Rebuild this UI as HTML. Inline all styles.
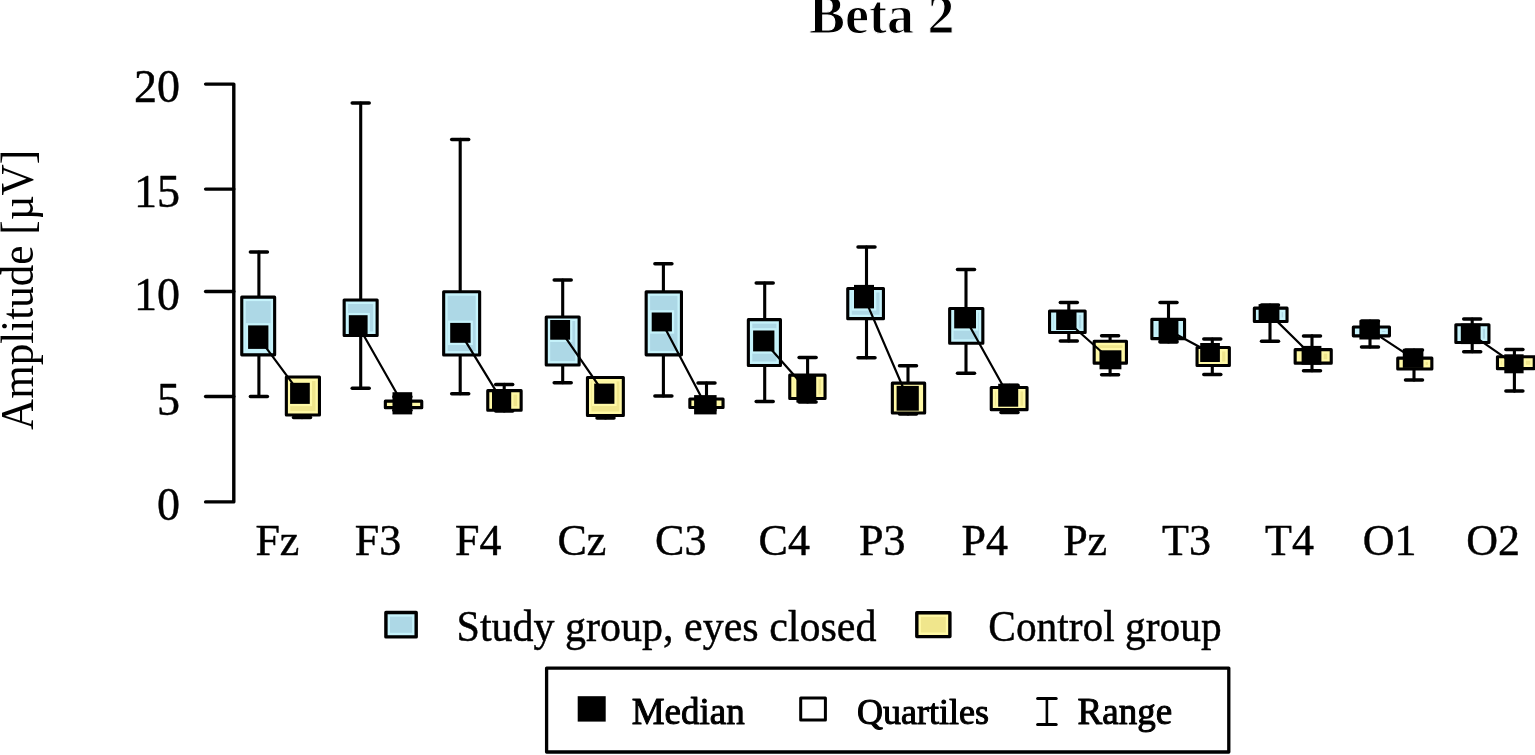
<!DOCTYPE html>
<html><head><meta charset="utf-8"><title>Beta 2</title>
<style>
html,body{margin:0;padding:0;background:#fff;}
body{width:1535px;height:755px;overflow:hidden;}
svg{display:block;}
text{font-family:"Liberation Serif","Times New Roman",serif;fill:#000;}
.cap{stroke-width:3.5;}
.r{stroke:#000;stroke-width:0.45;stroke-linejoin:round;}
.h{stroke:#000;stroke-width:1.0;stroke-linejoin:round;}
</style></head><body>
<svg width="1535" height="755" viewBox="0 0 1535 755">
<rect width="1535" height="755" fill="#fff"/>
<text x="809" y="32.8" font-size="54" font-weight="bold" stroke="#fff" stroke-width="1.1">Beta 2</text>
<text transform="translate(33,290) rotate(-90)" font-size="45.5" text-anchor="middle" textLength="280" lengthAdjust="spacingAndGlyphs">Amplitude [µV]</text>
<g stroke="#000" stroke-width="3.4" fill="none" stroke-linecap="round" stroke-linejoin="round">
<path d="M205.6,84.1 H233.8 V501.9 H205.6"/>
<line x1="205.6" y1="189.1" x2="233.8" y2="189.1"/>
<line x1="205.6" y1="291.5" x2="233.8" y2="291.5"/>
<line x1="205.6" y1="396.5" x2="233.8" y2="396.5"/>
</g>
<g class="r" font-size="46" text-anchor="end">
<text x="180" y="102.1">20</text>
<text x="180" y="207.1">15</text>
<text x="180" y="309.5">10</text>
<text x="180" y="414.5">5</text>
<text x="180" y="519.9">0</text>
</g>
<defs>
<clipPath id="c0"><rect x="243.3" y="298.7" width="29.8" height="54.6"/></clipPath>
<clipPath id="c1"><rect x="345.7" y="301.6" width="29.9" height="32.3"/></clipPath>
<clipPath id="c2"><rect x="445.2" y="293.3" width="32.9" height="60.2"/></clipPath>
<clipPath id="c3"><rect x="547.8" y="318.6" width="29.8" height="44.9"/></clipPath>
<clipPath id="c4"><rect x="647.7" y="293.4" width="32.2" height="59.9"/></clipPath>
<clipPath id="c5"><rect x="749.9" y="321.2" width="29" height="42.7"/></clipPath>
<clipPath id="c6"><rect x="849.3" y="290.1" width="32.6" height="27"/></clipPath>
<clipPath id="c7"><rect x="951.2" y="310.1" width="30.1" height="31.6"/></clipPath>
<clipPath id="c8"><rect x="1051.1" y="312.6" width="32.5" height="18.3"/></clipPath>
<clipPath id="c9"><rect x="1153.4" y="320.9" width="29.6" height="16.2"/></clipPath>
<clipPath id="c10"><rect x="1255.9" y="309.7" width="29.6" height="10.2"/></clipPath>
<clipPath id="c11"><rect x="1354.9" y="328.5" width="33" height="5.8"/></clipPath>
<clipPath id="c12"><rect x="1457.4" y="326.3" width="30" height="14.7"/></clipPath>
<clipPath id="c13"><rect x="287.9" y="378.6" width="30" height="34.9"/></clipPath>
<clipPath id="c14"><rect x="386.9" y="402.7" width="33.3" height="3.4"/></clipPath>
<clipPath id="c15"><rect x="489.3" y="392.2" width="30.3" height="16.5"/></clipPath>
<clipPath id="c16"><rect x="589" y="379" width="32.8" height="34.9"/></clipPath>
<clipPath id="c17"><rect x="691.4" y="400.6" width="30.1" height="5.4"/></clipPath>
<clipPath id="c18"><rect x="791.3" y="376.7" width="32.2" height="20.2"/></clipPath>
<clipPath id="c19"><rect x="893.9" y="384.7" width="29.2" height="26.8"/></clipPath>
<clipPath id="c20"><rect x="992.8" y="389" width="32.7" height="19.1"/></clipPath>
<clipPath id="c21"><rect x="1095.7" y="342.8" width="29.2" height="18.8"/></clipPath>
<clipPath id="c22"><rect x="1198.6" y="349" width="29.2" height="15"/></clipPath>
<clipPath id="c23"><rect x="1296.7" y="351.2" width="33" height="10.4"/></clipPath>
<clipPath id="c24"><rect x="1399.3" y="359.7" width="31" height="7.8"/></clipPath>
<clipPath id="c25"><rect x="1499" y="358.3" width="33.7" height="8.8"/></clipPath>
</defs>
<g stroke="#000" stroke-width="3.1" fill="none" stroke-linecap="round">
<line x1="258.9" y1="252.1" x2="258.9" y2="396.5"/>
<line class="cap" x1="250.4" y1="252.1" x2="267.4" y2="252.1"/>
<line class="cap" x1="250.4" y1="396.5" x2="267.4" y2="396.5"/>
<line x1="360.7" y1="103.1" x2="360.7" y2="388.2"/>
<line class="cap" x1="352.2" y1="103.1" x2="369.2" y2="103.1"/>
<line class="cap" x1="352.2" y1="388.2" x2="369.2" y2="388.2"/>
<line x1="460.2" y1="139.4" x2="460.2" y2="393.7"/>
<line class="cap" x1="451.7" y1="139.4" x2="468.7" y2="139.4"/>
<line class="cap" x1="451.7" y1="393.7" x2="468.7" y2="393.7"/>
<line x1="562.7" y1="280.1" x2="562.7" y2="382.8"/>
<line class="cap" x1="554.2" y1="280.1" x2="571.2" y2="280.1"/>
<line class="cap" x1="554.2" y1="382.8" x2="571.2" y2="382.8"/>
<line x1="663.4" y1="263.8" x2="663.4" y2="396"/>
<line class="cap" x1="654.9" y1="263.8" x2="671.9" y2="263.8"/>
<line class="cap" x1="654.9" y1="396" x2="671.9" y2="396"/>
<line x1="764.7" y1="283.1" x2="764.7" y2="401.4"/>
<line class="cap" x1="756.2" y1="283.1" x2="773.2" y2="283.1"/>
<line class="cap" x1="756.2" y1="401.4" x2="773.2" y2="401.4"/>
<line x1="866.5" y1="247.1" x2="866.5" y2="357.8"/>
<line class="cap" x1="858" y1="247.1" x2="875" y2="247.1"/>
<line class="cap" x1="858" y1="357.8" x2="875" y2="357.8"/>
<line x1="966" y1="269.6" x2="966" y2="373.3"/>
<line class="cap" x1="957.5" y1="269.6" x2="974.5" y2="269.6"/>
<line class="cap" x1="957.5" y1="373.3" x2="974.5" y2="373.3"/>
<line x1="1068.8" y1="302.6" x2="1068.8" y2="340.9"/>
<line class="cap" x1="1060.3" y1="302.6" x2="1077.3" y2="302.6"/>
<line class="cap" x1="1060.3" y1="340.9" x2="1077.3" y2="340.9"/>
<line x1="1168.5" y1="302.6" x2="1168.5" y2="342"/>
<line class="cap" x1="1160" y1="302.6" x2="1177" y2="302.6"/>
<line class="cap" x1="1160" y1="342" x2="1177" y2="342"/>
<line x1="1270" y1="305" x2="1270" y2="341.2"/>
<line class="cap" x1="1261.5" y1="305" x2="1278.5" y2="305"/>
<line class="cap" x1="1261.5" y1="341.2" x2="1278.5" y2="341.2"/>
<line x1="1370" y1="321" x2="1370" y2="346.9"/>
<line class="cap" x1="1361.5" y1="321" x2="1378.5" y2="321"/>
<line class="cap" x1="1361.5" y1="346.9" x2="1378.5" y2="346.9"/>
<line x1="1472.2" y1="319" x2="1472.2" y2="351.7"/>
<line class="cap" x1="1463.7" y1="319" x2="1480.7" y2="319"/>
<line class="cap" x1="1463.7" y1="351.7" x2="1480.7" y2="351.7"/>
<line x1="302" y1="385" x2="302" y2="417.6"/>
<line class="cap" x1="293.5" y1="385" x2="310.5" y2="385"/>
<line class="cap" x1="293.5" y1="417.6" x2="310.5" y2="417.6"/>
<line x1="402.4" y1="396.8" x2="402.4" y2="410.2"/>
<line class="cap" x1="393.9" y1="396.8" x2="410.9" y2="396.8"/>
<line class="cap" x1="393.9" y1="410.2" x2="410.9" y2="410.2"/>
<line x1="504.2" y1="384.4" x2="504.2" y2="411"/>
<line class="cap" x1="495.7" y1="384.4" x2="512.7" y2="384.4"/>
<line class="cap" x1="495.7" y1="411" x2="512.7" y2="411"/>
<line x1="605.5" y1="390" x2="605.5" y2="418"/>
<line class="cap" x1="597" y1="390" x2="614" y2="390"/>
<line class="cap" x1="597" y1="418" x2="614" y2="418"/>
<line x1="706.5" y1="383" x2="706.5" y2="410"/>
<line class="cap" x1="698" y1="383" x2="715" y2="383"/>
<line class="cap" x1="698" y1="410" x2="715" y2="410"/>
<line x1="807.6" y1="357.6" x2="807.6" y2="402"/>
<line class="cap" x1="799.1" y1="357.6" x2="816.1" y2="357.6"/>
<line class="cap" x1="799.1" y1="402" x2="816.1" y2="402"/>
<line x1="908" y1="365.8" x2="908" y2="414"/>
<line class="cap" x1="899.5" y1="365.8" x2="916.5" y2="365.8"/>
<line class="cap" x1="899.5" y1="414" x2="916.5" y2="414"/>
<line x1="1009.5" y1="385.2" x2="1009.5" y2="412.5"/>
<line class="cap" x1="1001" y1="385.2" x2="1018" y2="385.2"/>
<line class="cap" x1="1001" y1="412.5" x2="1018" y2="412.5"/>
<line x1="1110.1" y1="335.7" x2="1110.1" y2="374.8"/>
<line class="cap" x1="1101.6" y1="335.7" x2="1118.6" y2="335.7"/>
<line class="cap" x1="1101.6" y1="374.8" x2="1118.6" y2="374.8"/>
<line x1="1212.3" y1="339" x2="1212.3" y2="374.5"/>
<line class="cap" x1="1203.8" y1="339" x2="1220.8" y2="339"/>
<line class="cap" x1="1203.8" y1="374.5" x2="1220.8" y2="374.5"/>
<line x1="1312" y1="335.9" x2="1312" y2="370.8"/>
<line class="cap" x1="1303.5" y1="335.9" x2="1320.5" y2="335.9"/>
<line class="cap" x1="1303.5" y1="370.8" x2="1320.5" y2="370.8"/>
<line x1="1414" y1="350" x2="1414" y2="379.9"/>
<line class="cap" x1="1405.5" y1="350" x2="1422.5" y2="350"/>
<line class="cap" x1="1405.5" y1="379.9" x2="1422.5" y2="379.9"/>
<line x1="1514.4" y1="349.6" x2="1514.4" y2="391.1"/>
<line class="cap" x1="1505.9" y1="349.6" x2="1522.9" y2="349.6"/>
<line class="cap" x1="1505.9" y1="391.1" x2="1522.9" y2="391.1"/>
</g>
<rect x="241.75" y="297.15" width="32.9" height="57.7" fill="#ADD8E6"/>
<rect x="244.5" y="299.9" width="27.4" height="52.2" fill="none" stroke="#C6F3FB" stroke-width="2.4"/>
<rect clip-path="url(#c0)" x="248.1" y="325.4" width="20.3" height="23.5" fill="none" stroke="#C6F3FB" stroke-width="4.5"/>
<rect x="241.75" y="297.15" width="32.9" height="57.7" fill="none" stroke="#000" stroke-width="3.1" stroke-linejoin="round"/>
<rect x="344.15" y="300.05" width="33" height="35.4" fill="#ADD8E6"/>
<rect x="346.9" y="302.8" width="27.5" height="29.9" fill="none" stroke="#C6F3FB" stroke-width="2.4"/>
<rect clip-path="url(#c1)" x="348.8" y="315.2" width="18.8" height="21.1" fill="none" stroke="#C6F3FB" stroke-width="4.5"/>
<rect x="344.15" y="300.05" width="33" height="35.4" fill="none" stroke="#000" stroke-width="3.1" stroke-linejoin="round"/>
<rect x="443.65" y="291.75" width="36" height="63.3" fill="#ADD8E6"/>
<rect x="446.4" y="294.5" width="30.5" height="57.8" fill="none" stroke="#C6F3FB" stroke-width="2.4"/>
<rect clip-path="url(#c2)" x="450.2" y="322.9" width="20.4" height="19.9" fill="none" stroke="#C6F3FB" stroke-width="4.5"/>
<rect x="443.65" y="291.75" width="36" height="63.3" fill="none" stroke="#000" stroke-width="3.1" stroke-linejoin="round"/>
<rect x="546.25" y="317.05" width="32.9" height="48" fill="#ADD8E6"/>
<rect x="549" y="319.8" width="27.4" height="42.5" fill="none" stroke="#C6F3FB" stroke-width="2.4"/>
<rect clip-path="url(#c3)" x="550.2" y="320" width="19.9" height="19.7" fill="none" stroke="#C6F3FB" stroke-width="4.5"/>
<rect x="546.25" y="317.05" width="32.9" height="48" fill="none" stroke="#000" stroke-width="3.1" stroke-linejoin="round"/>
<rect x="646.15" y="291.85" width="35.3" height="63" fill="#ADD8E6"/>
<rect x="648.9" y="294.6" width="29.8" height="57.5" fill="none" stroke="#C6F3FB" stroke-width="2.4"/>
<rect clip-path="url(#c4)" x="651.7" y="312.5" width="20.2" height="18.9" fill="none" stroke="#C6F3FB" stroke-width="4.5"/>
<rect x="646.15" y="291.85" width="35.3" height="63" fill="none" stroke="#000" stroke-width="3.1" stroke-linejoin="round"/>
<rect x="748.35" y="319.65" width="32.1" height="45.8" fill="#ADD8E6"/>
<rect x="751.1" y="322.4" width="26.6" height="40.3" fill="none" stroke="#C6F3FB" stroke-width="2.4"/>
<rect clip-path="url(#c5)" x="753.1" y="330.5" width="21.3" height="20.9" fill="none" stroke="#C6F3FB" stroke-width="4.5"/>
<rect x="748.35" y="319.65" width="32.1" height="45.8" fill="none" stroke="#000" stroke-width="3.1" stroke-linejoin="round"/>
<rect x="847.75" y="288.55" width="35.7" height="30.1" fill="#ADD8E6"/>
<rect x="850.5" y="291.3" width="30.2" height="24.6" fill="none" stroke="#C6F3FB" stroke-width="2.4"/>
<rect clip-path="url(#c6)" x="854" y="284.9" width="20" height="23.5" fill="none" stroke="#C6F3FB" stroke-width="4.5"/>
<rect x="847.75" y="288.55" width="35.7" height="30.1" fill="none" stroke="#000" stroke-width="3.1" stroke-linejoin="round"/>
<rect x="949.65" y="308.55" width="33.2" height="34.7" fill="#ADD8E6"/>
<rect x="952.4" y="311.3" width="27.7" height="29.2" fill="none" stroke="#C6F3FB" stroke-width="2.4"/>
<rect clip-path="url(#c7)" x="954.2" y="307.6" width="21.8" height="20.8" fill="none" stroke="#C6F3FB" stroke-width="4.5"/>
<rect x="949.65" y="308.55" width="33.2" height="34.7" fill="none" stroke="#000" stroke-width="3.1" stroke-linejoin="round"/>
<rect x="1049.55" y="311.05" width="35.6" height="21.4" fill="#ADD8E6"/>
<rect x="1052.3" y="313.8" width="30.1" height="15.9" fill="none" stroke="#C6F3FB" stroke-width="2.4"/>
<rect clip-path="url(#c8)" x="1056.2" y="310.9" width="20.3" height="19.1" fill="none" stroke="#C6F3FB" stroke-width="4.5"/>
<rect x="1049.55" y="311.05" width="35.6" height="21.4" fill="none" stroke="#000" stroke-width="3.1" stroke-linejoin="round"/>
<rect x="1151.85" y="319.35" width="32.7" height="19.3" fill="#ADD8E6"/>
<rect x="1154.6" y="322.1" width="27.2" height="13.8" fill="none" stroke="#C6F3FB" stroke-width="2.4"/>
<rect clip-path="url(#c9)" x="1158.6" y="318.2" width="19.8" height="24.2" fill="none" stroke="#C6F3FB" stroke-width="4.5"/>
<rect x="1151.85" y="319.35" width="32.7" height="19.3" fill="none" stroke="#000" stroke-width="3.1" stroke-linejoin="round"/>
<rect x="1254.35" y="308.15" width="32.7" height="13.3" fill="#ADD8E6"/>
<rect x="1257.1" y="310.9" width="27.2" height="7.8" fill="none" stroke="#C6F3FB" stroke-width="2.4"/>
<rect clip-path="url(#c10)" x="1258.6" y="304.1" width="20.8" height="18.6" fill="none" stroke="#C6F3FB" stroke-width="4.5"/>
<rect x="1254.35" y="308.15" width="32.7" height="13.3" fill="none" stroke="#000" stroke-width="3.1" stroke-linejoin="round"/>
<rect x="1353.35" y="326.95" width="36.1" height="8.9" fill="#ADD8E6"/>
<rect x="1356.1" y="329.7" width="30.6" height="3.4" fill="none" stroke="#C6F3FB" stroke-width="2.4"/>
<rect clip-path="url(#c11)" x="1359.4" y="320.3" width="20.5" height="19.2" fill="none" stroke="#C6F3FB" stroke-width="4.5"/>
<rect x="1353.35" y="326.95" width="36.1" height="8.9" fill="none" stroke="#000" stroke-width="3.1" stroke-linejoin="round"/>
<rect x="1455.85" y="324.75" width="33.1" height="17.8" fill="#ADD8E6"/>
<rect x="1458.6" y="327.5" width="27.6" height="12.3" fill="none" stroke="#C6F3FB" stroke-width="2.4"/>
<rect clip-path="url(#c12)" x="1460.8" y="323.6" width="19.8" height="20.5" fill="none" stroke="#C6F3FB" stroke-width="4.5"/>
<rect x="1455.85" y="324.75" width="33.1" height="17.8" fill="none" stroke="#000" stroke-width="3.1" stroke-linejoin="round"/>
<rect x="286.35" y="377.05" width="33.1" height="38" fill="#F0E68C"/>
<rect x="289.1" y="379.8" width="27.6" height="32.5" fill="none" stroke="#FFF9A6" stroke-width="2.4"/>
<rect clip-path="url(#c13)" x="290.1" y="382.8" width="19.7" height="21.1" fill="none" stroke="#FFF9A6" stroke-width="4.5"/>
<rect x="286.35" y="377.05" width="33.1" height="38" fill="none" stroke="#000" stroke-width="3.1" stroke-linejoin="round"/>
<rect x="385.35" y="401.15" width="36.4" height="6.5" fill="#F0E68C"/>
<rect x="388.1" y="403.9" width="30.9" height="1" fill="none" stroke="#FFF9A6" stroke-width="2.4"/>
<rect clip-path="url(#c14)" x="392.5" y="392.2" width="19.7" height="22.2" fill="none" stroke="#FFF9A6" stroke-width="4.5"/>
<rect x="385.35" y="401.15" width="36.4" height="6.5" fill="none" stroke="#000" stroke-width="3.1" stroke-linejoin="round"/>
<rect x="487.75" y="390.65" width="33.4" height="19.6" fill="#F0E68C"/>
<rect x="490.5" y="393.4" width="27.9" height="14.1" fill="none" stroke="#FFF9A6" stroke-width="2.4"/>
<rect clip-path="url(#c15)" x="492" y="390.3" width="19.2" height="19.7" fill="none" stroke="#FFF9A6" stroke-width="4.5"/>
<rect x="487.75" y="390.65" width="33.4" height="19.6" fill="none" stroke="#000" stroke-width="3.1" stroke-linejoin="round"/>
<rect x="587.45" y="377.45" width="35.9" height="38" fill="#F0E68C"/>
<rect x="590.2" y="380.2" width="30.4" height="32.5" fill="none" stroke="#FFF9A6" stroke-width="2.4"/>
<rect clip-path="url(#c16)" x="594.2" y="383.6" width="20.2" height="20.2" fill="none" stroke="#FFF9A6" stroke-width="4.5"/>
<rect x="587.45" y="377.45" width="35.9" height="38" fill="none" stroke="#000" stroke-width="3.1" stroke-linejoin="round"/>
<rect x="689.85" y="399.05" width="33.2" height="8.5" fill="#F0E68C"/>
<rect x="692.6" y="401.8" width="27.7" height="3" fill="none" stroke="#FFF9A6" stroke-width="2.4"/>
<rect clip-path="url(#c17)" x="694.1" y="395.1" width="22.5" height="19.3" fill="none" stroke="#FFF9A6" stroke-width="4.5"/>
<rect x="689.85" y="399.05" width="33.2" height="8.5" fill="none" stroke="#000" stroke-width="3.1" stroke-linejoin="round"/>
<rect x="789.75" y="375.15" width="35.3" height="23.3" fill="#F0E68C"/>
<rect x="792.5" y="377.9" width="29.8" height="17.8" fill="none" stroke="#FFF9A6" stroke-width="2.4"/>
<rect clip-path="url(#c18)" x="796.4" y="375.3" width="19.8" height="27.2" fill="none" stroke="#FFF9A6" stroke-width="4.5"/>
<rect x="789.75" y="375.15" width="35.3" height="23.3" fill="none" stroke="#000" stroke-width="3.1" stroke-linejoin="round"/>
<rect x="892.35" y="383.15" width="32.3" height="29.9" fill="#F0E68C"/>
<rect x="895.1" y="385.9" width="26.8" height="24.4" fill="none" stroke="#FFF9A6" stroke-width="2.4"/>
<rect clip-path="url(#c19)" x="896.6" y="385.9" width="22.2" height="24.8" fill="none" stroke="#FFF9A6" stroke-width="4.5"/>
<rect x="892.35" y="383.15" width="32.3" height="29.9" fill="none" stroke="#000" stroke-width="3.1" stroke-linejoin="round"/>
<rect x="991.25" y="387.45" width="35.8" height="22.2" fill="#F0E68C"/>
<rect x="994" y="390.2" width="30.3" height="16.7" fill="none" stroke="#FFF9A6" stroke-width="2.4"/>
<rect clip-path="url(#c20)" x="998.2" y="383.8" width="20" height="22.9" fill="none" stroke="#FFF9A6" stroke-width="4.5"/>
<rect x="991.25" y="387.45" width="35.8" height="22.2" fill="none" stroke="#000" stroke-width="3.1" stroke-linejoin="round"/>
<rect x="1094.15" y="341.25" width="32.3" height="21.9" fill="#F0E68C"/>
<rect x="1096.9" y="344" width="26.8" height="16.4" fill="none" stroke="#FFF9A6" stroke-width="2.4"/>
<rect clip-path="url(#c21)" x="1099.5" y="350.3" width="21.9" height="19" fill="none" stroke="#FFF9A6" stroke-width="4.5"/>
<rect x="1094.15" y="341.25" width="32.3" height="21.9" fill="none" stroke="#000" stroke-width="3.1" stroke-linejoin="round"/>
<rect x="1197.05" y="347.45" width="32.3" height="18.1" fill="#F0E68C"/>
<rect x="1199.8" y="350.2" width="26.8" height="12.6" fill="none" stroke="#FFF9A6" stroke-width="2.4"/>
<rect clip-path="url(#c22)" x="1200.2" y="343" width="19.7" height="19" fill="none" stroke="#FFF9A6" stroke-width="4.5"/>
<rect x="1197.05" y="347.45" width="32.3" height="18.1" fill="none" stroke="#000" stroke-width="3.1" stroke-linejoin="round"/>
<rect x="1295.15" y="349.65" width="36.1" height="13.5" fill="#F0E68C"/>
<rect x="1297.9" y="352.4" width="30.6" height="8" fill="none" stroke="#FFF9A6" stroke-width="2.4"/>
<rect clip-path="url(#c23)" x="1301.6" y="345.9" width="19.8" height="18.8" fill="none" stroke="#FFF9A6" stroke-width="4.5"/>
<rect x="1295.15" y="349.65" width="36.1" height="13.5" fill="none" stroke="#000" stroke-width="3.1" stroke-linejoin="round"/>
<rect x="1397.75" y="358.15" width="34.1" height="10.9" fill="#F0E68C"/>
<rect x="1400.5" y="360.9" width="28.6" height="5.4" fill="none" stroke="#FFF9A6" stroke-width="2.4"/>
<rect clip-path="url(#c24)" x="1402.8" y="348.8" width="20.6" height="19.1" fill="none" stroke="#FFF9A6" stroke-width="4.5"/>
<rect x="1397.75" y="358.15" width="34.1" height="10.9" fill="none" stroke="#000" stroke-width="3.1" stroke-linejoin="round"/>
<rect x="1497.45" y="356.75" width="36.8" height="11.9" fill="#F0E68C"/>
<rect x="1500.2" y="359.5" width="31.3" height="6.4" fill="none" stroke="#FFF9A6" stroke-width="2.4"/>
<rect clip-path="url(#c25)" x="1504.3" y="354.3" width="19.3" height="19" fill="none" stroke="#FFF9A6" stroke-width="4.5"/>
<rect x="1497.45" y="356.75" width="36.8" height="11.9" fill="none" stroke="#000" stroke-width="3.1" stroke-linejoin="round"/>
<g stroke="#000" stroke-width="2.2" stroke-linecap="round">
<line x1="258.25" y1="337.15" x2="299.95" y2="393.35"/>
<line x1="358.2" y1="325.75" x2="402.35" y2="403.3"/>
<line x1="460.4" y1="332.85" x2="501.6" y2="400.15"/>
<line x1="560.15" y1="329.85" x2="604.3" y2="393.7"/>
<line x1="661.8" y1="321.95" x2="705.35" y2="404.75"/>
<line x1="763.75" y1="340.95" x2="806.3" y2="388.9"/>
<line x1="864" y1="296.65" x2="907.7" y2="398.3"/>
<line x1="965.1" y1="318" x2="1008.2" y2="395.25"/>
<line x1="1066.35" y1="320.45" x2="1110.45" y2="359.8"/>
<line x1="1168.5" y1="330.3" x2="1210.05" y2="352.5"/>
<line x1="1269" y1="313.4" x2="1311.5" y2="355.3"/>
<line x1="1369.65" y1="329.9" x2="1413.1" y2="358.35"/>
<line x1="1470.7" y1="333.85" x2="1513.95" y2="363.8"/>
</g>
<g fill="#000">
<rect class="m" x="248.1" y="325.4" width="20.3" height="23.5"/>
<rect class="m" x="348.8" y="315.2" width="18.8" height="21.1"/>
<rect class="m" x="450.2" y="322.9" width="20.4" height="19.9"/>
<rect class="m" x="550.2" y="320" width="19.9" height="19.7"/>
<rect class="m" x="651.7" y="312.5" width="20.2" height="18.9"/>
<rect class="m" x="753.1" y="330.5" width="21.3" height="20.9"/>
<rect class="m" x="854" y="284.9" width="20" height="23.5"/>
<rect class="m" x="954.2" y="307.6" width="21.8" height="20.8"/>
<rect class="m" x="1056.2" y="310.9" width="20.3" height="19.1"/>
<rect class="m" x="1158.6" y="318.2" width="19.8" height="24.2"/>
<rect class="m" x="1258.6" y="304.1" width="20.8" height="18.6"/>
<rect class="m" x="1359.4" y="320.3" width="20.5" height="19.2"/>
<rect class="m" x="1460.8" y="323.6" width="19.8" height="20.5"/>
<rect class="m" x="290.1" y="382.8" width="19.7" height="21.1"/>
<rect class="m" x="392.5" y="392.2" width="19.7" height="22.2"/>
<rect class="m" x="492" y="390.3" width="19.2" height="19.7"/>
<rect class="m" x="594.2" y="383.6" width="20.2" height="20.2"/>
<rect class="m" x="694.1" y="395.1" width="22.5" height="19.3"/>
<rect class="m" x="796.4" y="375.3" width="19.8" height="27.2"/>
<rect class="m" x="896.6" y="385.9" width="22.2" height="24.8"/>
<rect class="m" x="998.2" y="383.8" width="20" height="22.9"/>
<rect class="m" x="1099.5" y="350.3" width="21.9" height="19"/>
<rect class="m" x="1200.2" y="343" width="19.7" height="19"/>
<rect class="m" x="1301.6" y="345.9" width="19.8" height="18.8"/>
<rect class="m" x="1402.8" y="348.8" width="20.6" height="19.1"/>
<rect class="m" x="1504.3" y="354.3" width="19.3" height="19"/>
</g>
<g class="r" font-size="44">
<text x="277.4" y="555.2" text-anchor="middle">Fz</text>
<text x="378.1" y="555.2" text-anchor="middle">F3</text>
<text x="478.2" y="555.2" text-anchor="middle">F4</text>
<text x="581.9" y="555.2" text-anchor="middle">Cz</text>
<text x="680.8" y="555.2" text-anchor="middle">C3</text>
<text x="784.3" y="555.2" text-anchor="middle">C4</text>
<text x="882.2" y="555.2" text-anchor="middle">P3</text>
<text x="984.7" y="555.2" text-anchor="middle">P4</text>
<text x="1085.15" y="555.2" text-anchor="middle">Pz</text>
<text x="1186.45" y="555.2" text-anchor="middle">T3</text>
<text x="1289.5" y="555.2" text-anchor="middle">T4</text>
<text x="1389.55" y="555.2" text-anchor="middle">O1</text>
<text x="1493.15" y="555.2" text-anchor="middle">O2</text>
</g>
<rect x="385.9" y="612.5" width="30.3" height="24.4" fill="#ADD8E6"/><rect x="388.8" y="615.4" width="24.5" height="18.6" fill="none" stroke="#C6F3FB" stroke-width="2.4"/><rect x="385.9" y="612.5" width="30.3" height="24.4" fill="none" stroke="#000" stroke-width="3.4" stroke-linejoin="round"/>
<text class="r" x="456.6" y="640.5" font-size="44" textLength="419.8" lengthAdjust="spacingAndGlyphs">Study group, eyes closed</text>
<rect x="916.8" y="612.7" width="33.1" height="23.9" fill="#F0E68C"/><rect x="919.7" y="615.6" width="27.3" height="18.1" fill="none" stroke="#FFF9A6" stroke-width="2.4"/><rect x="916.8" y="612.7" width="33.1" height="23.9" fill="none" stroke="#000" stroke-width="3.4" stroke-linejoin="round"/>
<text class="r" x="988.3" y="640.5" font-size="44" textLength="233.3" lengthAdjust="spacingAndGlyphs">Control group</text>
<rect x="546.6" y="668.1" width="682.2" height="83.9" fill="none" stroke="#000" stroke-width="3.3" stroke-linejoin="round"/>
<rect x="577.7" y="696.2" width="28" height="25.4" fill="#000"/>
<text class="h" x="631.7" y="724.3" font-size="37">Median</text>
<rect x="800.7" y="698.1" width="24.7" height="22" fill="none" stroke="#000" stroke-width="3" stroke-linejoin="round"/>
<text class="h" x="857" y="724.3" font-size="36">Quartiles</text>
<g stroke="#000" stroke-width="2.6" stroke-linecap="round"><line x1="1046.9" y1="698.6" x2="1046.9" y2="724.6"/><line x1="1037.6" y1="698.6" x2="1056.2" y2="698.6" stroke-width="3"/><line x1="1037.6" y1="724.6" x2="1056.2" y2="724.6" stroke-width="3"/></g>
<text class="h" x="1077.6" y="724.3" font-size="37">Range</text>
</svg>
</body></html>
